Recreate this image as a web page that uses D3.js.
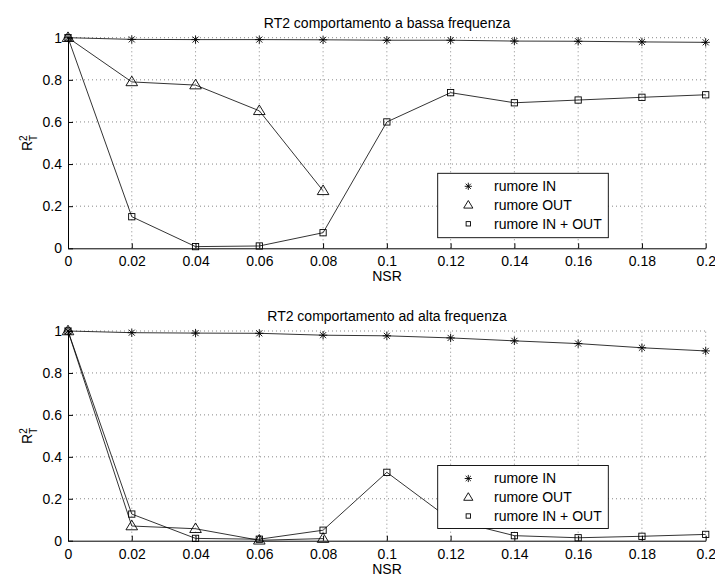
<!DOCTYPE html>
<html><head><meta charset="utf-8">
<script src="https://cdn.jsdelivr.net/npm/d3@7"></script>
<style>body{margin:0;background:#fff}svg{display:block;font-family:"Liberation Sans",Arial,sans-serif}</style>
</head><body>
<script>
const nsr = [0,0.02,0.04,0.06,0.08,0.1,0.12,0.14,0.16,0.18,0.2];
const xTickLabels = ["0","0.02","0.04","0.06","0.08","0.1","0.12","0.14","0.16","0.18","0.2"];
const yTicks = [0,0.2,0.4,0.6,0.8,1];
const yTickLabels = ["0","0.2","0.4","0.6","0.8","1"];
const seriesNames = ["rumore IN","rumore OUT","rumore IN + OUT"];
const titles = ["RT2 comportamento a bassa frequenza","RT2 comportamento ad alta frequenza"];

// low frequency
const lowIn     = [1,0.992,0.991,0.991,0.990,0.988,0.988,0.984,0.983,0.980,0.978];
const lowOut    = [1,0.79,0.775,0.653,0.273];
const lowInOut  = [1,0.15,0.008,0.011,0.074,0.60,0.739,0.691,0.704,0.717,0.729];
// high frequency
const highIn    = [1,0.992,0.990,0.989,0.980,0.977,0.967,0.953,0.940,0.920,0.905];
const highOut   = [1,0.07,0.057,0.002,0.01];
const highInOut = [1,0.127,0.011,0.007,0.05,0.326,0.10,0.024,0.014,0.021,0.03];

const W=715,H=577;
const svg=d3.select("body").append("svg").attr("width",W).attr("height",H);

const panels=[
  {title:titles[0],data:[lowIn,lowOut,lowInOut],top:37.7,bottom:248.3,leg:{x:437.7,y:173.3,w:170.6,h:64.4}},
  {title:titles[1],data:[highIn,highOut,highInOut],top:331,bottom:540.7,leg:{x:437.7,y:465.5,w:170.6,h:63}}
];
const markers=["star","tri","sq"];

function drawMarker(g,type,x,y,s){
  if(type==="star"){
    const r=s;
    const p=g.append("g").attr("stroke","#000").attr("stroke-width",0.9);
    p.append("line").attr("x1",x-r).attr("x2",x+r).attr("y1",y).attr("y2",y);
    p.append("line").attr("x1",x).attr("x2",x).attr("y1",y-r).attr("y2",y+r);
    const d=r*0.72;
    p.append("line").attr("x1",x-d).attr("x2",x+d).attr("y1",y-d).attr("y2",y+d);
    p.append("line").attr("x1",x-d).attr("x2",x+d).attr("y1",y+d).attr("y2",y-d);
  } else if(type==="tri"){
    const r=s*1.35;
    g.append("path").attr("d",`M${x},${y-r}L${x+r*1.0},${y+r*0.65}L${x-r*1.0},${y+r*0.65}Z`)
     .attr("fill","none").attr("stroke","#000").attr("stroke-width",0.9);
  } else {
    const r=s*0.95;
    g.append("rect").attr("x",x-r).attr("y",y-r).attr("width",2*r).attr("height",2*r)
     .attr("fill","none").attr("stroke","#000").attr("stroke-width",0.9);
  }
}

panels.forEach(p=>{
  const x=d3.scaleLinear().domain([0,0.2]).range([68,705.7]);
  const y=d3.scaleLinear().domain([0,1]).range([p.bottom,p.top]);
  const g=svg.append("g");
  // grid
  const grid=g.append("g").attr("stroke","#555").attr("stroke-width",0.7).attr("stroke-dasharray","1,3");
  nsr.forEach(v=>{ if(v>0) grid.append("line").attr("x1",x(v)).attr("x2",x(v)).attr("y1",p.bottom).attr("y2",p.top); });
  yTicks.forEach(v=>{ if(v>0) grid.append("line").attr("x1",68).attr("x2",705.7).attr("y1",y(v)).attr("y2",y(v)); });
  // axes with inward ticks
  const xa=d3.axisBottom(x).tickValues(nsr).tickFormat((d,i)=>xTickLabels[i]).tickSizeInner(-5).tickSizeOuter(0).tickPadding(8);
  const xg=g.append("g").attr("transform",`translate(0,${p.bottom})`).call(xa);
  const ya=d3.axisLeft(y).tickValues(yTicks).tickFormat((d,i)=>yTickLabels[i]).tickSizeInner(-5).tickSizeOuter(0).tickPadding(6);
  const yg=g.append("g").attr("transform",`translate(68,0)`).call(ya);
  [xg,yg].forEach(a=>{
    a.selectAll("path").attr("stroke","#000").attr("stroke-width",1);
    a.selectAll("line").attr("stroke","#000").attr("stroke-width",1);
    a.selectAll("text").attr("fill","#000").style("font-size","14px").style("font-family","Liberation Sans, Arial, sans-serif");
  });
  // title
  g.append("text").attr("x",387).attr("y",p.top-10).attr("text-anchor","middle")
   .style("font-size","14px").text(p.title);
  // xlabel
  g.append("text").attr("x",387).attr("y",p.bottom+33).attr("text-anchor","middle")
   .style("font-size","14px").text("NSR");
  // ylabel
  const yl=g.append("text").attr("transform",`translate(32,${(p.top+p.bottom)/2}) rotate(-90)`)
   .attr("text-anchor","middle").style("font-size","14px");
  yl.append("tspan").text("R");
  yl.append("tspan").attr("dy",-5.5).style("font-size","10px").text("2");
  yl.append("tspan").attr("dx",-5.6).attr("dy",10).style("font-size","10px").text("T");
  // series
  const line=d3.line().x((d,i)=>x(nsr[i])).y(d=>y(d));
  p.data.forEach((arr,k)=>{
    g.append("path").datum(arr).attr("d",line).attr("fill","none").attr("stroke","#000").attr("stroke-width",0.8);
  });
  p.data.forEach((arr,k)=>{
    arr.forEach((v,i)=>drawMarker(g,markers[k],x(nsr[i]),y(v),k===0?4.2:(k===1?4.3:3.3)));
  });
  // legend
  const L=p.leg;
  g.append("rect").attr("x",L.x).attr("y",L.y).attr("width",L.w).attr("height",L.h)
   .attr("fill","#fff").attr("stroke","#000").attr("stroke-width",0.9);
  const rowY=[L.y+13,L.y+31.8,L.y+50.5];
  seriesNames.forEach((n,k)=>{
    drawMarker(g,markers[k],468.3,rowY[k],k===0?3.6:(k===1?3.4:2.3));
    g.append("text").attr("x",494).attr("y",rowY[k]).attr("dy","0.35em").style("font-size","14px").text(n);
  });
});
</script>
</body></html>
